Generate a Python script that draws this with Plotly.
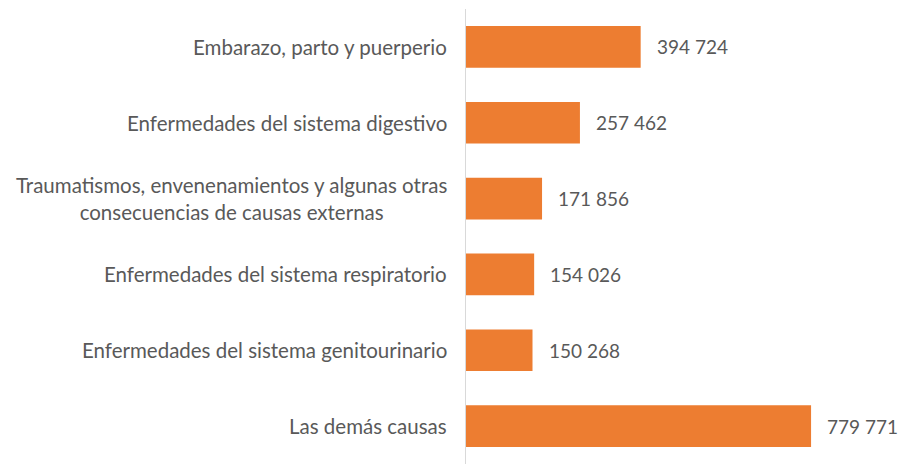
import plotly.graph_objects as go

categories = [
    "Embarazo, parto y puerperio",
    "Enfermedades del sistema digestivo",
    "Traumatismos, envenenamientos y algunas otras<br>consecuencias de causas externas",
    "Enfermedades del sistema respiratorio",
    "Enfermedades del sistema genitourinario",
    "Las demás causas",
]
values = [394724, 257462, 171856, 154026, 150268, 779771]
value_labels = ["394 724", "257 462", "171 856", "154 026", "150 268", "779 771"]

FONT = "Lato, Open Sans, sans-serif"
GREY = "#595959"

fig = go.Figure()
fig.add_trace(go.Bar(
    x=values, y=categories, orientation="h",
    marker=dict(color="#ED7D31", line=dict(width=0)),
    hoverinfo="skip",
))

annotations = []
for c, v, t in zip(categories, values, value_labels):
    annotations.append(dict(
        x=v, y=c, xref="x", yref="y", text=t, showarrow=False,
        xanchor="left", xshift=14, font=dict(family=FONT, size=19, color=GREY),
    ))
    annotations.append(dict(
        x=0, y=c, xref="paper", yref="y", text=c, showarrow=False,
        xanchor="right", xshift=-17, align="center",
        font=dict(family=FONT, size=20.5, color=GREY),
    ))

fig.update_layout(
    width=901, height=464,
    margin=dict(l=466, r=0, t=9, b=0),
    paper_bgcolor="white", plot_bgcolor="white",
    bargap=0.45,
    showlegend=False,
    xaxis=dict(range=[0, 983000], showgrid=False, zeroline=False,
               showticklabels=False, showline=False, fixedrange=True),
    yaxis=dict(categoryorder="array", categoryarray=categories[::-1],
               showticklabels=False, showgrid=False, zeroline=False,
               showline=True, linecolor="#D9D9D9", linewidth=1.5, ticks="",
               fixedrange=True),
    annotations=annotations,
)

fig.write_html(
    "out.html",
    config={"displayModeBar": False, "staticPlot": True},
    post_script="document.body.style.margin='0';document.body.style.overflow='hidden';",
)
